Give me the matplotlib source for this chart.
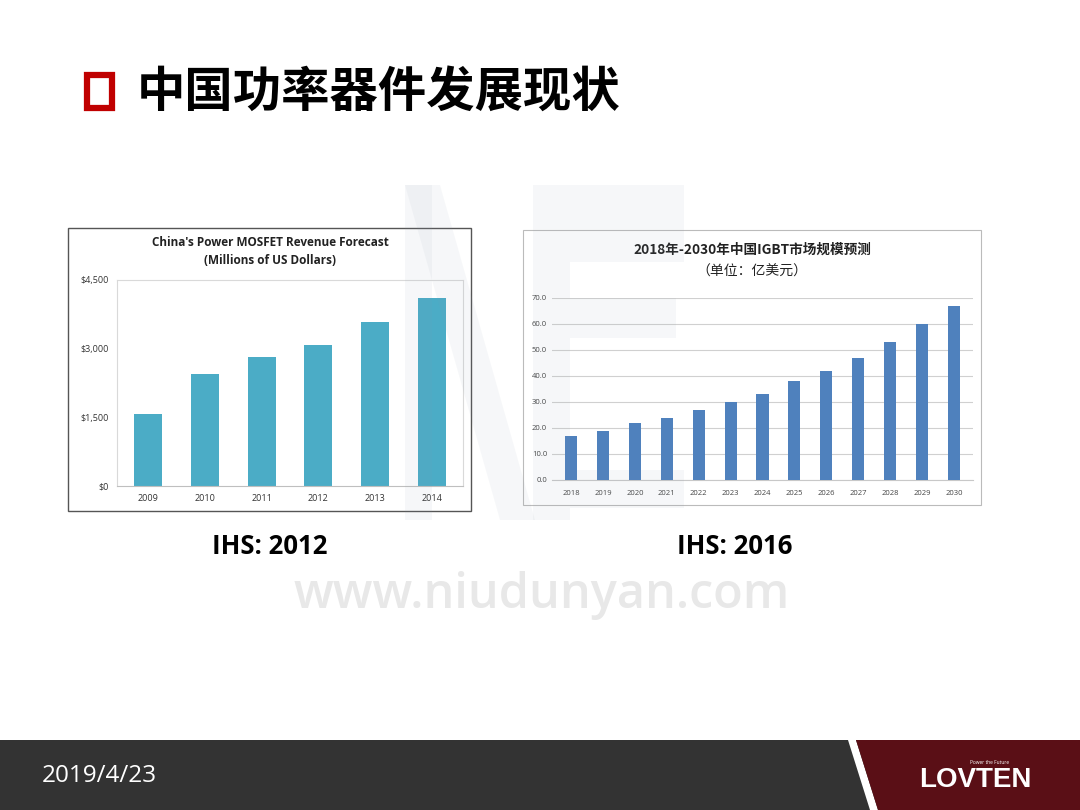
import matplotlib.pyplot as plt
from matplotlib.patches import Rectangle, Polygon
import numpy as np

plt.rcParams['font.family'] = ['Open Sans', 'Noto Sans CJK SC', 'DejaVu Sans']

# MOSFET forecast, millions of US dollars (IHS 2012)
mosfet_years = ["2009", "2010", "2011", "2012", "2013", "2014"]
mosfet_revenue = [1580, 2450, 2810, 3080, 3580, 4110]
mosfet_ticks = [0, 1500, 3000, 4500]
mosfet_tick_labels = ["$0", "$1,500", "$3,000", "$4,500"]

# IGBT market size, 100M US dollars (IHS 2016)
igbt_years = [str(y) for y in range(2018, 2031)]
igbt_size = [17, 19, 22, 24, 27, 30, 33, 38, 42, 47, 53, 60, 67]
igbt_ticks = [0, 10, 20, 30, 40, 50, 60, 70]

W, H = 1080, 810


def fx(px):
    return px / W


def fy(py):
    return 1 - py / H


def rect_px(x0, y0, x1, y1, **kw):
    return Rectangle((fx(x0), fy(y1)), fx(x1 - x0), (y1 - y0) / H,
                     transform=fig.transFigure, **kw)


fig = plt.figure(figsize=(10.8, 8.1), dpi=100)
fig.patch.set_facecolor("white")

# slide title
fig.patches.append(rect_px(87, 75, 112, 108, fill=False, edgecolor="#c00000", linewidth=4.5))
fig.text(fx(137), fy(92), "中国功率器件发展现状", fontsize=34.8, fontweight="bold",
         family=['Noto Sans CJK SC'], va="center", ha="left", color="black")

# chart frames
fig.patches.append(rect_px(68, 228, 471, 511, fill=False, edgecolor="#555555", linewidth=1.0))
fig.patches.append(rect_px(523, 230, 981, 505, fill=False, edgecolor="#bbbbbb", linewidth=0.8))

# left chart: MOSFET
ax1 = fig.add_axes([fx(117), fy(486), fx(463 - 117), (486 - 280) / H])
x1 = np.arange(len(mosfet_years))
ax1.bar(x1, mosfet_revenue, width=0.49, color="#4bacc6")
ax1.set_ylim(0, 4500)
ax1.set_xlim(-0.55, len(mosfet_years) - 0.45)
ax1.set_yticks(mosfet_ticks, labels=mosfet_tick_labels)
ax1.set_xticks(x1, labels=mosfet_years)
ax1.tick_params(length=0, labelsize=6.5, colors="#333333", pad=6)
for s in ax1.spines.values():
    s.set_color("#d9d9d9")
    s.set_linewidth(0.8)
ax1.spines["bottom"].set_color("#bfbfbf")
fig.text(fx(270), fy(243), "China's Power MOSFET Revenue Forecast", fontsize=8.5,
         fontweight="bold", ha="center", va="center", color="#222222")
fig.text(fx(270), fy(260), "(Millions of US Dollars)", fontsize=8.5,
         fontweight="bold", ha="center", va="center", color="#222222")

# right chart: IGBT
ax2 = fig.add_axes([fx(552), fy(480), fx(973 - 552), (480 - 298) / H])
x2 = np.arange(len(igbt_years))
ax2.bar(x2, igbt_size, width=0.38, color="#4f81bd", zorder=3)
ax2.set_ylim(0, 70)
ax2.set_xlim(-0.6, len(igbt_years) - 0.4)
ax2.set_yticks(igbt_ticks, labels=[f"{v:.1f}" for v in igbt_ticks])
ax2.set_xticks(x2, labels=igbt_years)
ax2.tick_params(length=0, labelsize=5.5, colors="#444444")
ax2.tick_params(axis="x", pad=7)
ax2.grid(axis="y", color="#d0d0d0", linewidth=0.8, zorder=0)
for s in ax2.spines.values():
    s.set_visible(False)
ax2.spines["bottom"].set_visible(True)
ax2.spines["bottom"].set_color("#c8c8c8")
fig.text(fx(752), fy(250), "2018年-2030年中国IGBT市场规模预测", fontsize=9.8,
         fontweight="bold", family=['Noto Sans CJK SC'], ha="center", va="center", color="#222222")
fig.text(fx(752), fy(272), "（单位：亿美元）", fontsize=10,
         family=['Noto Sans CJK SC'], ha="center", va="center", color="#222222")

# sources
fig.text(fx(270), fy(546), "IHS: 2012", fontsize=18.5, fontweight="bold",
         ha="center", va="center", color="black")
fig.text(fx(735), fy(546), "IHS: 2016", fontsize=18.5, fontweight="bold",
         ha="center", va="center", color="black")

# watermark
fig.text(fx(542), fy(595), "www.niudunyan.com", fontsize=35, fontweight="semibold",
         ha="center", va="center", color="#e8e8e8", family=['Open Sans'])
wm = "#8a9bb0"
for pts in [
    [(405, 185), (432, 185), (432, 520), (405, 520)],
    [(405, 185), (440, 185), (535, 520), (500, 520)],
    [(533, 185), (570, 185), (570, 520), (533, 520)],
    [(570, 185), (684, 185), (684, 262), (570, 262)],
    [(570, 298), (676, 298), (676, 338), (570, 338)],
    [(570, 470), (684, 470), (684, 508), (570, 508)],
]:
    fig.patches.append(Polygon([(fx(a), fy(b)) for a, b in pts], closed=True,
                               transform=fig.transFigure, facecolor=wm,
                               edgecolor="none", alpha=0.07, zorder=5))

# footer
fig.patches.append(rect_px(0, 740, 1080, 810, facecolor="#333333", edgecolor="none"))
fig.patches.append(Polygon([(fx(848), fy(740)), (fx(856), fy(740)), (fx(878), fy(810)), (fx(870), fy(810))],
                           closed=True, transform=fig.transFigure, facecolor="white", edgecolor="none"))
fig.patches.append(Polygon([(fx(856), fy(740)), (fx(1080), fy(740)), (fx(1080), fy(810)), (fx(878), fy(810))],
                           closed=True, transform=fig.transFigure, facecolor="#5a0f16", edgecolor="none"))
fig.text(fx(42), fy(776), "2019/4/23", fontsize=17.5, color="white", ha="left", va="center")
fig.text(fx(975), fy(780), "LOVTEN", fontsize=20, fontweight="bold", color="white",
         ha="center", va="center", family=['Liberation Sans'])
fig.text(fx(990), fy(762), "Power the Future", fontsize=3.5, color="white",
         ha="center", va="center")

fig.savefig("out.png", dpi=100)
